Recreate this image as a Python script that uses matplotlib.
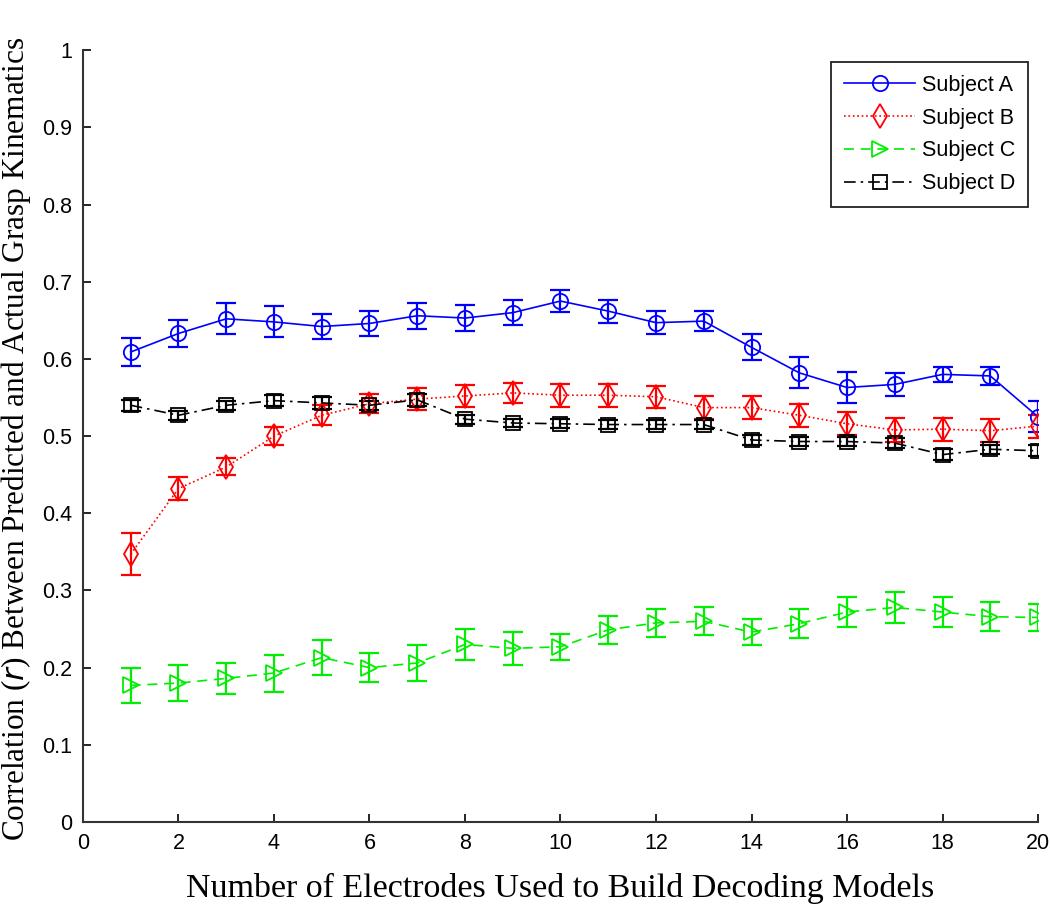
import matplotlib
matplotlib.use("Agg")
import matplotlib.pyplot as plt
import numpy as np

n_electrodes = list(range(1, 21))

subj_a = [0.609, 0.633, 0.652, 0.648, 0.642, 0.646, 0.656, 0.653, 0.660, 0.675,
          0.662, 0.647, 0.649, 0.615, 0.582, 0.563, 0.567, 0.580, 0.578, 0.525]
err_a = [0.018, 0.017, 0.020, 0.020, 0.016, 0.016, 0.017, 0.017, 0.016, 0.014,
         0.015, 0.015, 0.013, 0.017, 0.020, 0.020, 0.015, 0.010, 0.012, 0.020]

subj_b = [0.347, 0.432, 0.460, 0.500, 0.527, 0.542, 0.548, 0.552, 0.556, 0.553,
          0.553, 0.551, 0.537, 0.537, 0.527, 0.516, 0.508, 0.509, 0.507, 0.513]
err_b = [0.027, 0.015, 0.011, 0.012, 0.013, 0.012, 0.014, 0.014, 0.013, 0.015,
         0.015, 0.014, 0.015, 0.015, 0.015, 0.015, 0.015, 0.015, 0.015, 0.015]

subj_c = [0.177, 0.180, 0.186, 0.193, 0.213, 0.200, 0.206, 0.230, 0.225, 0.227,
          0.249, 0.258, 0.260, 0.246, 0.257, 0.272, 0.278, 0.272, 0.266, 0.265]
err_c = [0.023, 0.023, 0.020, 0.024, 0.023, 0.019, 0.023, 0.020, 0.021, 0.017,
         0.018, 0.018, 0.018, 0.017, 0.019, 0.020, 0.020, 0.019, 0.019, 0.018]

subj_d = [0.540, 0.527, 0.540, 0.546, 0.543, 0.540, 0.547, 0.522, 0.517, 0.516,
          0.515, 0.515, 0.515, 0.495, 0.493, 0.493, 0.491, 0.476, 0.483, 0.481]
err_d = [0.007, 0.006, 0.006, 0.007, 0.008, 0.006, 0.008, 0.006, 0.005, 0.006,
         0.006, 0.006, 0.006, 0.006, 0.006, 0.006, 0.007, 0.007, 0.006, 0.007]

labels = ["Subject A", "Subject B", "Subject C", "Subject D"]
colors = ["#0000ff", "#ff0000", "#00ee00", "#000000"]
styles = ["-", ":", (0, (6, 4)), (0, (7, 3, 1.5, 3))]
markers = ["o", "d", ">", "s"]
msizes = [11, 12, 11, 9.5]

x_ticks = list(range(0, 21, 2))
y_ticks = [round(v * 0.1, 1) for v in range(11)]

tick_font = "Liberation Sans"

fig = plt.figure(figsize=(10.5, 9.14), dpi=100)
ax = fig.add_axes([0.079, 0.1007, 0.9096, 0.8443])

series = [(subj_a, err_a), (subj_b, err_b), (subj_c, err_c), (subj_d, err_d)]
handles = []
for (vals, errs), lab, col, ls, mk, ms in zip(series, labels, colors, styles, markers, msizes):
    ax.errorbar(n_electrodes, vals, yerr=errs, fmt='none', ecolor=col,
                elinewidth=1.6, capsize=7.5, capthick=1.6, zorder=2)
    h, = ax.plot(n_electrodes, vals, linestyle=ls, color=col, linewidth=1.2,
                 marker=mk, markersize=ms,
                 markerfacecolor='none', markeredgecolor=col, markeredgewidth=1.3,
                 label=lab, zorder=3)
    handles.append(h)

ax.set_xlim(0, 20)
ax.set_ylim(0, 1)
ax.set_xticks(x_ticks)
ax.set_yticks(y_ticks)
ax.set_xticklabels([str(t) for t in x_ticks], family=tick_font, fontsize=15.5)
ax.set_yticklabels([("%g" % t) for t in y_ticks], family=tick_font, fontsize=15.5)
ax.tick_params(direction='in', length=6, width=1.2, pad=8)
for s in ["top", "right"]:
    ax.spines[s].set_visible(False)
for s in ["left", "bottom"]:
    ax.spines[s].set_linewidth(1.5)
    ax.spines[s].set_color("#333333")

ax.set_xlabel("Number of Electrodes Used to Build Decoding Models",
              family="Liberation Serif", fontsize=24.5)
ax.xaxis.set_label_coords(0.5, -0.066)
ax.set_ylabel("Correlation ($\\it{r}$) Between Predicted and Actual Grasp Kinematics",
              family="Liberation Serif", fontsize=22.5)
ax.yaxis.set_label_coords(-0.052, 0.497)

leg = ax.legend(handles=handles, loc="upper right", bbox_to_anchor=(0.9895, 0.985),
                borderaxespad=0,
                prop={"family": tick_font, "size": 15.5}, fancybox=False,
                edgecolor="#222222", framealpha=1, handlelength=3.3,
                labelspacing=0.55, borderpad=0.6, handletextpad=0.3)
leg.get_frame().set_linewidth(1.3)

fig.savefig("out.png", dpi=100)
